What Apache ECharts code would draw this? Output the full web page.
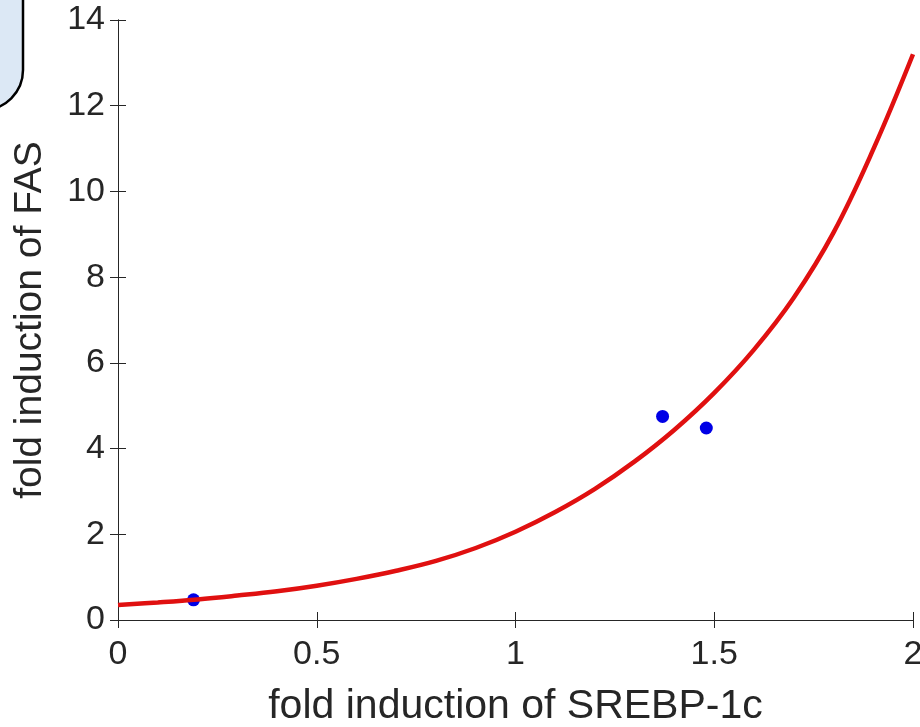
<!DOCTYPE html>
<html>
<head>
<meta charset="utf-8">
<script src="https://cdn.jsdelivr.net/npm/echarts@6/dist/echarts.min.js"></script>
<style>
  html, body { margin: 0; padding: 0; background: #fff; }
  #chart { width: 920px; height: 727px; }
</style>
</head>
<body>
<div id="chart"></div>
<script>
// fitted curve
const fitX = [0, 0.1, 0.2, 0.3, 0.4, 0.5, 0.6, 0.7, 0.8, 0.9, 1.0, 1.1, 1.2, 1.3, 1.4, 1.5, 1.6, 1.7, 1.8, 1.9, 2.0]
const fitY = [0.35, 0.41, 0.48, 0.57, 0.67, 0.8, 0.96, 1.15, 1.38, 1.68, 2.06, 2.52, 3.06, 3.7, 4.44, 5.3, 6.31, 7.52, 9.04, 10.98, 13.2]
// measured points
const dotX = [0.19, 1.37, 1.48]
const dotY = [0.47, 4.75, 4.48]

const axisColor = '#262626'
const font = 'Liberation Sans, Arial, Helvetica, sans-serif'

const chart = echarts.init(document.getElementById('chart'))

const boxAxis = (extra) => ({
  type: 'value',
  axisLine: { show: true, lineStyle: { color: axisColor, width: 1 } },
  axisTick: { show: true, inside: true, length: 8, lineStyle: { color: axisColor } },
  splitLine: { show: false },
  ...extra,
})

chart.setOption({
  animation: false,
  backgroundColor: '#fff',
  grid: { left: 118, right: 7, top: 20, bottom: 107, outerBoundsMode: 'none', containLabel: false },
  xAxis: [
    boxAxis({
      min: 0, max: 2, interval: 0.5,
      axisLabel: {
        color: axisColor, fontSize: 34, fontFamily: font, margin: 18,
        formatter: (v) => String(v),
      },
      name: 'fold induction of SREBP-1c',
      nameLocation: 'middle',
      nameGap: 66,
      nameTextStyle: { color: axisColor, fontSize: 41, fontFamily: font },
    }),
    boxAxis({ min: 0, max: 2, interval: 0.5, position: 'top', axisLabel: { show: false } }),
  ],
  yAxis: [
    boxAxis({
      min: 0, max: 14, interval: 2,
      axisLabel: { color: axisColor, fontSize: 34, fontFamily: font, margin: 13 },
      name: 'fold induction of FAS',
      nameLocation: 'middle',
      nameGap: 68,
      nameTextStyle: { color: axisColor, fontSize: 39, fontFamily: font },
    }),
    boxAxis({ min: 0, max: 14, interval: 2, position: 'right', axisLabel: { show: false } }),
  ],
  series: [
    {
      type: 'scatter',
      data: dotX.map((x, i) => [x, dotY[i]]),
      symbol: 'circle',
      symbolSize: 13,
      itemStyle: { color: '#0000e6', opacity: 1 },
      z: 2,
    },
    {
      type: 'line',
      data: fitX.map((x, i) => [x, fitY[i]]),
      smooth: 0.4,
      showSymbol: false,
      lineStyle: { color: '#e01010', width: 4.5 },
      z: 3,
    },
  ],
  graphic: [
    {
      type: 'rect',
      shape: { x: -60, y: -60, width: 83, height: 170, r: 40 },
      style: { fill: '#dce8f5', stroke: '#000', lineWidth: 2.5 },
      z: 10,
    },
  ],
})
</script>
</body>
</html>
